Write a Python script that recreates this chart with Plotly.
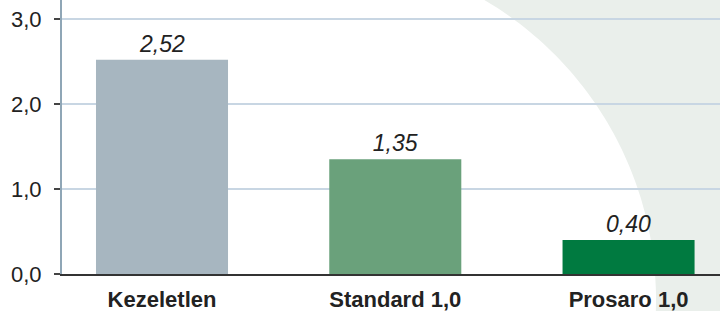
import numpy as np
import plotly.graph_objects as go

categories = ["Kezeletlen", "Standard 1,0", "Prosaro 1,0"]
values = [2.52, 1.35, 0.40]
bar_colors = ["#a7b6c0", "#6aa17b", "#007a40"]
y_ticks = [0, 1, 2, 3]

W, H = 720, 311
ML, MR, MT, MB = 62, 0, 0, 37
PW, PH = W - ML - MR, H - MT - MB

x_pos = list(range(len(categories)))

fig = go.Figure()
fig.add_trace(go.Bar(
    x=x_pos, y=values, width=0.566,
    marker=dict(color=bar_colors, line=dict(width=0)),
    texttemplate="%{y:.2f}", textposition="outside",
    textfont=dict(family="Liberation Sans, Arial, sans-serif", size=23, color="#222222", style="italic"),
    cliponaxis=False, hoverinfo="skip",
))

# decorative background arc (pixel geometry -> paper coords)
cx, cy, r = 308.0, 300.0, 348.0
pts = []
for py in np.linspace(0, H, 80):
    dy = py - cy
    px = cx + np.sqrt(max(r * r - dy * dy, 0))
    pts.append((px, py))
pts += [(W, H), (W, 0)]
def to_paper(px, py):
    return (px - ML) / PW, (H - MB - py) / PH
path = "M " + " L ".join(f"{to_paper(px, py)[0]:.4f},{to_paper(px, py)[1]:.4f}" for px, py in pts) + " Z"

fig.update_layout(
    width=W, height=H,
    margin=dict(l=ML, r=MR, t=MT, b=MB, autoexpand=False),
    paper_bgcolor="white", plot_bgcolor="rgba(0,0,0,0)",
    separators=", ",
    showlegend=False,
    shapes=[dict(type="path", xref="paper", yref="paper", path=path,
                 fillcolor="#eaefeb", line=dict(width=0), layer="below")],
    xaxis=dict(
        range=[-0.4287, 2.392], automargin=False,
        tickvals=x_pos, ticktext=categories,
        tickfont=dict(family="Liberation Sans, Arial, sans-serif", size=22, color="#222222", weight="bold"),
        showline=True, linecolor="#333333", linewidth=2,
        showgrid=False, zeroline=False, ticks="", ticklabelstandoff=5,
    ),
    yaxis=dict(
        range=[0, 274 / 85], automargin=False,
        tickvals=y_ticks, tickformat=".1f",
        tickfont=dict(family="Liberation Sans, Arial, sans-serif", size=22, color="#222222"),
        showline=True, linecolor="#8fa6b6", linewidth=2,
        showgrid=True, gridcolor="#c8d6e3", gridwidth=1.5,
        zeroline=False, ticks="outside", ticklen=6, tickcolor="#444444", tickwidth=1.5,
        ticklabelstandoff=8,
    ),
)

fig.write_html("out.html", config={"displayModeBar": False},
               post_script="document.body.style.margin='0';document.body.style.overflow='hidden';")
